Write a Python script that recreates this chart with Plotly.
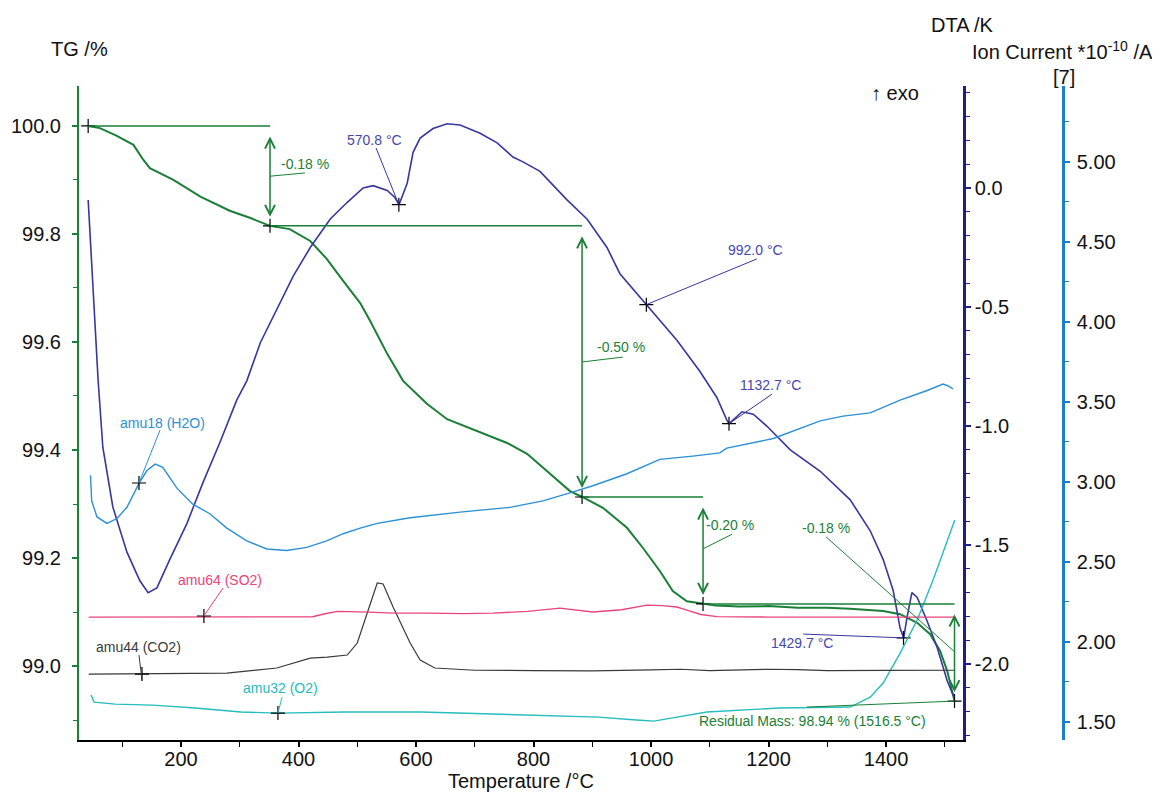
import plotly.graph_objects as go

# ---------------- data ----------------
tg_T = [42, 62, 90, 119, 136, 147, 187, 233, 283, 317, 351.5, 385, 420, 448, 476, 505, 522, 551,
        578, 619, 653, 704, 755, 789, 823, 862, 883, 918, 959, 986, 1015, 1037, 1061, 1089,
        1110, 1150, 1200, 1250, 1300, 1339, 1395, 1424, 1453, 1475, 1492, 1504, 1516.5]
tg_val = [100.0, 99.996, 99.982, 99.965, 99.937, 99.922, 99.900, 99.869, 99.843, 99.830, 99.815,
          99.809, 99.787, 99.754, 99.713, 99.672, 99.639, 99.578, 99.528, 99.485, 99.457, 99.435,
          99.413, 99.393, 99.361, 99.324, 99.313, 99.293, 99.256, 99.219, 99.176, 99.139, 99.120,
          99.115, 99.112, 99.110, 99.111, 99.108, 99.108, 99.106, 99.102, 99.096, 99.080, 99.059,
          99.028, 98.991, 98.935]

dta_T = [42, 47, 52, 59, 67, 84, 108, 130, 144, 159, 181, 210, 237, 266, 295, 312, 335, 363, 391,
         420, 454, 483, 510, 527, 551, 564, 571, 585, 595, 607, 629, 653, 675, 709, 738, 765, 782,
         811, 857, 891, 925, 947, 992, 1044, 1083, 1112, 1129, 1133, 1155, 1174, 1197, 1237, 1288,
         1339, 1373, 1395, 1412, 1424, 1430, 1436, 1444, 1453, 1470, 1487, 1504, 1512, 1516]
dta_val = [-0.05, -0.26, -0.51, -0.81, -1.09, -1.34, -1.53, -1.65, -1.70, -1.68, -1.56, -1.41,
           -1.24, -1.07, -0.89, -0.81, -0.65, -0.51, -0.37, -0.25, -0.13, -0.06, 0.00, 0.01,
           -0.01, -0.04, -0.07, 0.02, 0.15, 0.21, 0.25, 0.27, 0.265, 0.23, 0.19, 0.13, 0.11,
           0.07, -0.05, -0.13, -0.25, -0.36, -0.49, -0.64, -0.77, -0.88, -0.975, -0.99, -0.94,
           -0.95, -1.00, -1.10, -1.19, -1.31, -1.44, -1.56, -1.69, -1.85, -1.89, -1.80, -1.70,
           -1.72, -1.82, -1.93, -2.07, -2.12, -2.14]

h2o_T = [46, 48, 57, 74, 91, 108, 128.5, 142, 156, 169, 193, 220, 249, 278, 312, 346, 380, 414,
         448, 476, 505, 534, 590, 675, 760, 816, 862, 901, 959, 1015, 1071, 1117, 1129, 1208,
         1288, 1327, 1373, 1424, 1470, 1497, 1505, 1514]
h2o_v = [3.04, 2.88, 2.78, 2.74, 2.77, 2.84, 2.99, 3.07, 3.11, 3.09, 2.96, 2.86, 2.80, 2.71, 2.63,
         2.58, 2.57, 2.59, 2.63, 2.675, 2.71, 2.74, 2.775, 2.81, 2.84, 2.88, 2.93, 2.975, 3.05,
         3.14, 3.16, 3.18, 3.21, 3.27, 3.38, 3.41, 3.43, 3.51, 3.57, 3.61, 3.60, 3.58]

so2_T = [43, 200, 330, 424, 445, 466, 520, 561, 619, 680, 731, 790, 845, 870, 901, 950, 993,
         1020, 1044, 1061, 1085, 1112, 1200, 1355, 1517]
so2_v = [2.154, 2.154, 2.154, 2.156, 2.175, 2.19, 2.185, 2.179, 2.179, 2.176, 2.179, 2.19, 2.21,
         2.20, 2.186, 2.20, 2.229, 2.226, 2.217, 2.198, 2.17, 2.157, 2.154, 2.154, 2.154]

co2_T = [43, 150, 278, 363, 390, 420, 449, 483, 500, 517, 534, 544, 561, 590, 607, 632, 700, 800,
         900, 1000, 1050, 1100, 1200, 1250, 1300, 1400, 1517]
co2_v = [1.798, 1.800, 1.804, 1.836, 1.865, 1.898, 1.904, 1.917, 1.992, 2.179, 2.367, 2.361,
         2.217, 1.992, 1.886, 1.836, 1.822, 1.820, 1.818, 1.824, 1.828, 1.820, 1.828, 1.826,
         1.820, 1.821, 1.822]

o2_T = [47, 52, 88, 152, 224, 302, 365, 479, 609, 779, 910, 975, 1005, 1034, 1095, 1218, 1339,
        1373, 1395, 1424, 1453, 1480, 1504, 1517]
o2_v = [1.667, 1.623, 1.610, 1.604, 1.586, 1.561, 1.554, 1.561, 1.561, 1.542, 1.529, 1.511,
        1.504, 1.523, 1.561, 1.586, 1.592, 1.654, 1.742, 1.929, 2.136, 2.386, 2.636, 2.761]

# mass-step evaluation
step_T = [42, 351.5, 882.6, 1088.5, 1516.5]
step_TG = [100.0, 99.815, 99.313, 99.115, 98.935]
step_labels = ["-0.18 %", "-0.50 %", "-0.20 %", "-0.18 %"]
step_label_T = [367, 905, 1090, 1254]
step_label_TG = [99.930, 99.591, 99.261, 99.256]
step_leaders = [(351.5, 99.907, 411, 99.913), (882.6, 99.563, 952, 99.572),
                (1088.5, 99.217, 1138, 99.244), (1298, 99.239, 1517, 99.026)]
residual_text = "Residual Mass: 98.94 % (1516.5 °C)"

# DTA peaks
dta_peak_T = [570.8, 992.0, 1132.7, 1429.7]
dta_peak_val = [-0.07, -0.49, -0.99, -1.89]
dta_peak_labels = ["570.8 °C", "992.0 °C", "1132.7 °C", "1429.7 °C"]
dta_label_T = [530, 1177, 1204, 1257]
dta_label_val = [0.202, -0.26, -0.828, -1.912]
dta_leader_end = [(532, 0.168), (1180, -0.298), (1206, -0.866), (1259, -1.874)]

# ion current labels
ion_names = ["amu18 (H2O)", "amu64 (SO2)", "amu44 (CO2)", "amu32 (O2)"]
ion_marker_T = [128.5, 239, 133.6, 365]
ion_marker_v = [2.992, 2.161, 1.798, 1.554]
ion_label_T = [167.7, 266, 128.5, 368.5]
ion_label_v = [3.367, 2.386, 1.967, 1.711]
ion_leaders = [(128.5, 2.992, 164.3, 3.323), (239, 2.161, 271.5, 2.336),
               (133.6, 1.76, 128.5, 1.917), (365, 1.554, 372, 1.654)]

x_ticks = [200, 400, 600, 800, 1000, 1200, 1400]
tg_ticks = [99.0, 99.2, 99.4, 99.6, 99.8, 100.0]
dta_ticks = [0.0, -0.5, -1.0, -1.5, -2.0]
dta_ticktext = ["0.0", "-0.5", "-1.0", "-1.5", "-2.0"]
ion_ticks = [1.5, 2.0, 2.5, 3.0, 3.5, 4.0, 4.5, 5.0]
ion_ticktext = ["1.50", "2.00", "2.50", "3.00", "3.50", "4.00", "4.50", "5.00"]

# ---------------- style ----------------
FONT = "Arial, Liberation Sans, sans-serif"
GREEN = "#1a7f37"
NAVY = "#1e1e8c"
DTA_C = "#36379f"
DTA_TXT = "#4646b0"
ION_AX = "#1b7fc9"
H2O_C = "#2b90d6"
SO2_C = "#e8457a"
CO2_C = "#3a3a3a"
O2_C = "#27bcbd"

fig = go.Figure()

fig.add_trace(go.Scatter(x=o2_T, y=o2_v, yaxis="y3", mode="lines", line=dict(color=O2_C, width=1.4)))
fig.add_trace(go.Scatter(x=co2_T, y=co2_v, yaxis="y3", mode="lines", line=dict(color=CO2_C, width=1.2)))
fig.add_trace(go.Scatter(x=so2_T, y=so2_v, yaxis="y3", mode="lines", line=dict(color=SO2_C, width=1.4)))
fig.add_trace(go.Scatter(x=h2o_T, y=h2o_v, yaxis="y3", mode="lines", line=dict(color=H2O_C, width=1.4)))
fig.add_trace(go.Scatter(x=dta_T, y=dta_val, yaxis="y2", mode="lines", line=dict(color=DTA_C, width=1.6)))
fig.add_trace(go.Scatter(x=tg_T, y=tg_val, yaxis="y", mode="lines", line=dict(color=GREEN, width=2)))

cross = dict(symbol="cross-thin", size=10, line=dict(color="black", width=1.2), color="black")
fig.add_trace(go.Scatter(x=step_T, y=step_TG, yaxis="y", mode="markers", marker=cross))
fig.add_trace(go.Scatter(x=dta_peak_T, y=dta_peak_val, yaxis="y2", mode="markers", marker=cross))
fig.add_trace(go.Scatter(x=ion_marker_T, y=ion_marker_v, yaxis="y3", mode="markers", marker=cross))

shapes = []
annotations = []

# step horizontals and double arrows
for i in range(len(step_T) - 1):
    shapes.append(dict(type="line", xref="x", yref="y", x0=step_T[i], x1=step_T[i + 1],
                       y0=step_TG[i], y1=step_TG[i], line=dict(color=GREEN, width=1.5)))
    annotations.append(dict(x=step_T[i + 1], y=step_TG[i + 1], ax=step_T[i + 1], ay=step_TG[i],
                            xref="x", yref="y", axref="x", ayref="y", text="", showarrow=True,
                            arrowhead=5, startarrowhead=5, arrowside="end+start", arrowsize=1.3,
                            arrowwidth=1.5, arrowcolor=GREEN, standoff=9, startstandoff=9))
    annotations.append(dict(x=step_label_T[i], y=step_label_TG[i], xref="x", yref="y",
                            text=step_labels[i], showarrow=False, xanchor="left", yanchor="middle",
                            font=dict(family=FONT, size=14, color=GREEN)))
for (x0, y0, x1, y1) in step_leaders:
    shapes.append(dict(type="line", xref="x", yref="y", x0=x0, y0=y0, x1=x1, y1=y1,
                       line=dict(color=GREEN, width=1)))
# residual mass
shapes.append(dict(type="line", xref="x", yref="y", x0=1265.5, y0=98.924, x1=step_T[-1],
                   y1=step_TG[-1], line=dict(color=GREEN, width=1)))
annotations.append(dict(x=1274, y=98.898, xref="x", yref="y", text=residual_text, showarrow=False,
                        xanchor="center", yanchor="middle",
                        font=dict(family=FONT, size=14, color=GREEN)))

# DTA peak labels
for i in range(len(dta_peak_T)):
    ex, ey = dta_leader_end[i]
    shapes.append(dict(type="line", xref="x", yref="y2", x0=dta_peak_T[i], y0=dta_peak_val[i],
                       x1=ex, y1=ey, line=dict(color=DTA_C, width=1)))
    annotations.append(dict(x=dta_label_T[i], y=dta_label_val[i], xref="x", yref="y2",
                            text=dta_peak_labels[i], showarrow=False, xanchor="center",
                            yanchor="middle", font=dict(family=FONT, size=14, color=DTA_TXT)))

# ion labels
ion_cols = [H2O_C, SO2_C, CO2_C, O2_C]
for i in range(len(ion_names)):
    x0, y0, x1, y1 = ion_leaders[i]
    shapes.append(dict(type="line", xref="x", yref="y3", x0=x0, y0=y0, x1=x1, y1=y1,
                       line=dict(color=ion_cols[i], width=1)))
    annotations.append(dict(x=ion_label_T[i], y=ion_label_v[i], xref="x", yref="y3",
                            text=ion_names[i], showarrow=False, xanchor="center",
                            yanchor="middle", font=dict(family=FONT, size=14, color=ion_cols[i])))

# axis titles
title_font = dict(family=FONT, size=20, color="#111")
for txt, px, py in [("TG /%", 0.0, 1.057), ("DTA /K", 0.8974, 1.093),
                    ("Ion Current *10<sup>-10</sup> /A", 0.999, 1.055), ("[7]", 1.001, 1.014),
                    ("↑ exo", 0.829, 0.989)]:
    annotations.append(dict(x=px, y=py, xref="paper", yref="paper", text=txt, showarrow=False,
                            xanchor="center", yanchor="middle", font=title_font))
annotations.append(dict(x=0.449, y=-0.043, xref="paper", yref="paper", text="Temperature /°C",
                        showarrow=False, xanchor="center", yanchor="top", font=title_font))

tickfont = dict(family=FONT, size=20, color="#111")

# page body has an 8 px margin, so the figure is placed 8 px in from the window corner
fig.update_layout(
    width=1152, height=786,
    margin=dict(l=71, r=97, t=78, b=54, autoexpand=False),
    plot_bgcolor="white", paper_bgcolor="white",
    showlegend=False, hovermode=False,
    shapes=shapes, annotations=annotations,
    xaxis=dict(domain=[0, 0.8984], range=[26.4, 1531], tickvals=x_ticks, ticks="outside",
               ticklen=5, tickwidth=1.5, tickcolor="black", showline=True, linecolor="black",
               linewidth=2, showgrid=False, zeroline=False, tickfont=tickfont,
               ticklabelstandoff=-5, automargin=False,
               minor=dict(tickmode="linear", tick0=0, dtick=100, ticks="outside", ticklen=5,
                          tickcolor="black", tickwidth=1.2, showgrid=False)),
    yaxis=dict(range=[98.863, 100.074], tickvals=tg_ticks, ticktext=[f"{v:.1f}" for v in tg_ticks],
               ticks="outside", ticklen=5, tickwidth=1.5, tickcolor=GREEN, showline=True,
               linecolor=GREEN, linewidth=2, showgrid=False, zeroline=False, tickfont=tickfont,
               ticklabelstandoff=7, automargin=False,
               minor=dict(tickmode="linear", tick0=0, dtick=0.1, ticks="outside", ticklen=4,
                          tickcolor=GREEN, tickwidth=1.2, showgrid=False)),
    yaxis2=dict(overlaying="y", side="right", anchor="x", range=[-2.319, 0.4286],
                tickvals=dta_ticks, ticktext=dta_ticktext, ticks="outside", ticklen=5,
                tickwidth=1.5, tickcolor=NAVY, showline=True, linecolor=NAVY, linewidth=2.5,
                showgrid=False, zeroline=False, tickfont=tickfont, ticklabelstandoff=0,
                automargin=False,
                minor=dict(tickmode="linear", tick0=0, dtick=0.1, ticks="outside", ticklen=4,
                           tickcolor=NAVY, tickwidth=1.2, showgrid=False)),
    yaxis3=dict(overlaying="y", side="right", anchor="free", position=1.0, range=[1.386, 5.473],
                tickvals=ion_ticks, ticktext=ion_ticktext, ticks="outside", ticklen=5,
                tickwidth=1.5, tickcolor=ION_AX, showline=True, linecolor=ION_AX, linewidth=2.5,
                showgrid=False, zeroline=False, tickfont=tickfont, ticklabelstandoff=3,
                automargin=False,
                minor=dict(tickmode="linear", tick0=0, dtick=0.25, ticks="outside", ticklen=4,
                           tickcolor=ION_AX, tickwidth=1.2, showgrid=False)),
)

fig.write_html("out.html")
